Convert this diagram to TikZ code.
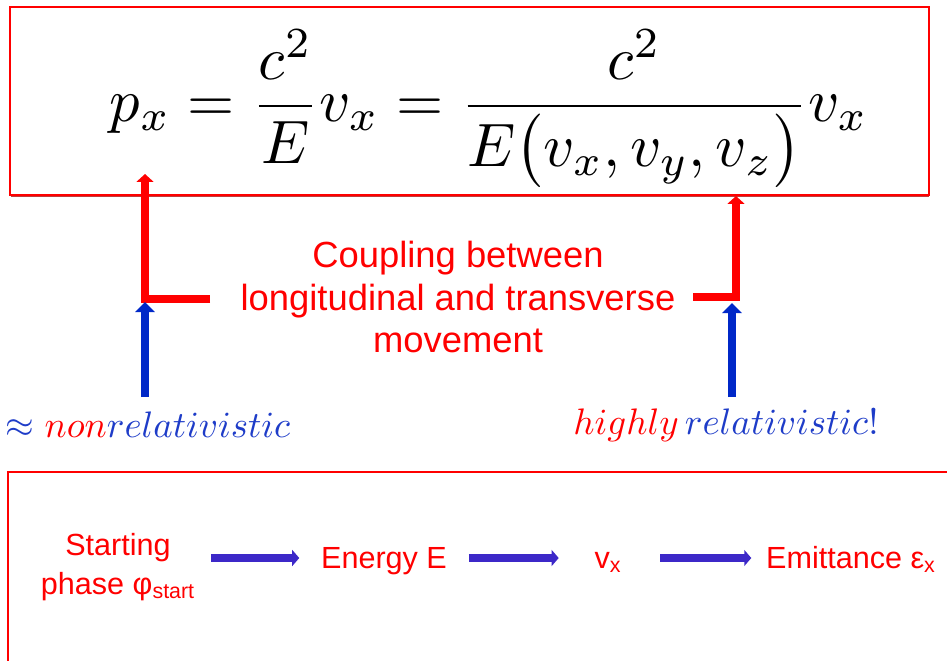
\documentclass[tikz,border=0pt]{standalone}
\usepackage{amsmath}
\usepackage{fontspec}
\newfontfamily\arialfont{Liberation Sans}
\usepackage{tikz}
\usetikzlibrary{positioning}
\usetikzlibrary{arrows.meta}
\usepackage{xcolor}
\definecolor{slidered}{RGB}{255,0,0}
\definecolor{shadowred}{RGB}{190,60,60}
\definecolor{labelblue}{RGB}{30,60,200}
\definecolor{arrowblue}{RGB}{0,40,200}
\definecolor{flowblue}{RGB}{60,40,200}

\begin{document}
\begin{tikzpicture}[x=0.02cm, y=-0.02cm, line width=1pt,
    box/.style={draw=slidered, line width=0.7pt},
    redarrow/.style={draw=slidered, line width=5pt, line join=miter, -{Triangle[width=9.6pt,length=4.5pt]}},
    bluearrow/.style={draw=arrowblue, line width=5pt, -{Triangle[width=11pt,length=5.7pt]}},
    flowarrow/.style={draw=flowblue, line width=4.5pt, -{Triangle[width=9pt,length=4pt]}},
    flowtext/.style={font={\arialfont\fontsize{17.4}{22}\selectfont}, text=slidered, align=center, inner sep=0pt}]

    \useasboundingbox (0,0) rectangle (947,660);

    % the formula
    \draw[box] (10,7) rectangle (929,195);
    \draw[shadowred, line width=1.1pt] (11,196.5) -- (929,196.5);
    \node (eq) at (489,109)
        {\scalebox{3.45}[3.49]{$\displaystyle p_x = \frac{c^2}{E}v_x = \frac{c^2}{E\bigl(v_x, v_y, v_z\bigr)}v_x$}};

    \node[font={\arialfont\fontsize{20.7}{24}\selectfont}, text=slidered, align=center] (coupling) at (458,297)
        {Coupling between\\longitudinal and transverse\\movement};

    \node[text=labelblue] (nonrel) at (148,425)
        {\scalebox{2.1}{$\approx \textcolor{slidered}{non}relativistic$}};
    \node[text=labelblue] (highrel) at (726,425)
        {\scalebox{2.1}{$\textcolor{slidered}{highly}\,relativistic!$}};

    % the two L-shaped arrows
    \coordinate (lfoot) at (210,299);
    \coordinate (lcorner) at (145,299);
    \coordinate (ltip) at (145,174);
    \coordinate (rfoot) at (693,297);
    \coordinate (rcorner) at (736,297);
    \coordinate (rtip) at (736,196);
    \draw[redarrow] (lfoot) -- (lcorner) -- (ltip);
    \draw[redarrow] (rfoot) -- (rcorner) -- (rtip);

    \coordinate (lbase) at (145,397);
    \coordinate (rbase) at (732,397);
    \draw[bluearrow] (lbase) -- (145,302);
    \draw[bluearrow] (rbase) -- (732,303);

    % the chain
    \draw[box] (8,472) rectangle (980,690);
    \node[flowtext] (start) at (118,567) {Starting\\phase φ\textsubscript{start}};
    \node[flowtext, anchor=base] (energy) at (384,568) {Energy E};
    \node[flowtext, anchor=base] (vx) at (608,568) {v\textsubscript{x}};
    \node[flowtext, anchor=base] (emit) at (851,568) {Emittance ε\textsubscript{x}};
    \coordinate (flowy) at (384,558);

    \draw[flowarrow, shorten <=0.3cm, shorten >=0.42cm] (start.east |- flowy) -- (energy.west |- flowy);
    \draw[flowarrow, shorten <=0.42cm, shorten >=0.7cm] (energy.east |- flowy) -- (vx.west |- flowy);
    \draw[flowarrow, shorten <=0.76cm, shorten >=0.28cm] (vx.east |- flowy) -- (emit.west |- flowy);

\end{tikzpicture}
\end{document}
